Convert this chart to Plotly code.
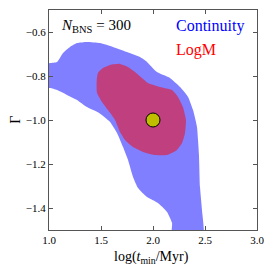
import plotly.graph_objects as go

# Continuity 2D credible region (log t_min, Gamma)
cont_x = [0.96, 1.01, 1.077, 1.135, 1.202, 1.269, 1.365, 1.49, 1.615, 1.75, 1.875, 1.942,
          2.038, 2.163, 2.26, 2.337, 2.385, 2.423, 2.433, 2.442, 2.452, 2.471, 2.481,
          2.183, 2.183, 2.135, 2.048, 1.942, 1.856, 1.808, 1.76, 1.712, 1.654, 1.587,
          1.475, 1.365, 1.269, 1.173, 1.077, 1.01, 0.96]
cont_y = [-0.745, -0.741, -0.736, -0.695, -0.668, -0.65, -0.645, -0.65, -0.668, -0.691, -0.714, -0.736,
          -0.782, -0.809, -0.85, -0.895, -0.955, -1.032, -1.091, -1.159, -1.305, -1.409, -1.53,
          -1.53, -1.468, -1.418, -1.377, -1.35, -1.309, -1.259, -1.182, -1.123, -1.059, -1.009,
          -0.966, -0.941, -0.909, -0.886, -0.864, -0.855, -0.855]

# LogM 2D credible region
logm_x = [1.459, 1.471, 1.519, 1.587, 1.683, 1.76, 1.827, 1.894, 1.952, 2.067, 2.183, 2.24,
          2.288, 2.317, 2.308, 2.279, 2.231, 2.135, 2.019, 1.904, 1.808, 1.731, 1.683, 1.635,
          1.567, 1.51, 1.462, 1.459]
logm_y = [-0.818, -0.786, -0.764, -0.75, -0.745, -0.759, -0.782, -0.809, -0.832, -0.85, -0.864, -0.895,
          -0.941, -1.0, -1.059, -1.105, -1.136, -1.159, -1.159, -1.145, -1.123, -1.091, -1.055, -1.0,
          -0.955, -0.918, -0.877, -0.818]

# True value
true_x = [2.0]
true_y = [-1.0]

FONT = "Liberation Serif, Times New Roman, serif"

fig = go.Figure()
fig.add_trace(go.Scatter(x=cont_x, y=cont_y, mode="lines", fill="toself",
                         line=dict(width=0, shape="spline", smoothing=0.5),
                         fillcolor="rgba(0,0,255,0.5)", hoverinfo="skip", showlegend=False))
fig.add_trace(go.Scatter(x=logm_x, y=logm_y, mode="lines", fill="toself",
                         line=dict(width=0, shape="spline", smoothing=0.5),
                         fillcolor="rgba(255,0,0,0.5)", hoverinfo="skip", showlegend=False))
fig.add_trace(go.Scatter(x=true_x, y=true_y, mode="markers",
                         marker=dict(size=14, color="#BFBF00", line=dict(color="black", width=1)),
                         showlegend=False))

axis_common = dict(showgrid=False, zeroline=False, showline=True, linecolor="#555555",
                   linewidth=1, mirror="ticks", ticks="inside", ticklen=4, tickcolor="#555555",
                   ticklabeloverflow="allow",
                   tickfont=dict(family=FONT, size=11, color="black"))
fig.update_xaxes(range=[1.0, 3.0], tickvals=[1.0, 1.5, 2.0, 2.5, 3.0], tickformat=".1f", **axis_common)
fig.update_yaxes(range=[-1.5, -0.5], tickvals=[-1.4, -1.2, -1.0, -0.8, -0.6], tickformat=".1f", **axis_common)

fig.update_layout(
    width=274, height=274,
    margin=dict(l=49, r=17, t=10, b=44),
    plot_bgcolor="white", paper_bgcolor="white",
    font=dict(family=FONT, color="black"),
    annotations=[
        dict(text="<i>N</i><sub>BNS</sub> = 300", xref="paper", yref="paper", x=0.05, y=0.925,
             xanchor="left", yanchor="middle", showarrow=False,
             font=dict(family=FONT, size=15, color="black")),
        dict(text="Continuity", xref="paper", yref="paper", x=0.6, y=0.925,
             xanchor="left", yanchor="middle", showarrow=False,
             font=dict(family=FONT, size=16, color="blue")),
        dict(text="LogM", xref="paper", yref="paper", x=0.6, y=0.82,
             xanchor="left", yanchor="middle", showarrow=False,
             font=dict(family=FONT, size=16, color="red")),
        dict(text="log(<i>t</i><sub>min</sub>/Myr)", xref="paper", yref="paper", x=0.495, y=-0.125,
             xanchor="center", yanchor="middle", showarrow=False,
             font=dict(family=FONT, size=14, color="black")),
        dict(text="Γ", xref="paper", yref="paper", x=-0.165, y=0.5, textangle=-90,
             xanchor="center", yanchor="middle", showarrow=False,
             font=dict(family=FONT, size=14, color="black")),
    ],
)

fig.write_html("out.html", config={"displayModeBar": False},
               post_script="document.body.style.margin='0';")
